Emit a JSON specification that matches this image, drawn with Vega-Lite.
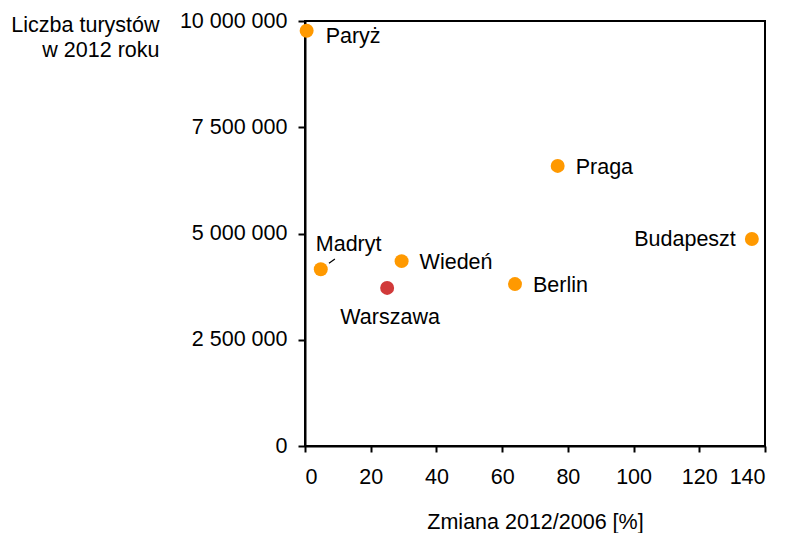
{
  "$schema": "https://vega.github.io/schema/vega-lite/v6.json",
  "width": 460,
  "height": 425,
  "autosize": {"type": "none"},
  "padding": {"left": 305, "top": 21, "right": 21, "bottom": 87},
  "background": "white",
  "config": {
    "font": "Liberation Sans",
    "view": {"stroke": "black", "strokeWidth": 2},
    "locale": {"number": {"decimal": ",", "thousands": " ", "grouping": [3], "currency": ["", " zł"]}},
    "axis": {
      "grid": false,
      "domainColor": "black",
      "domainWidth": 2,
      "tickColor": "black",
      "tickWidth": 2,
      "labelFont": "Liberation Sans",
      "labelFontSize": 21.5,
      "labelColor": "black",
      "titleFont": "Liberation Sans",
      "titleFontSize": 21.5,
      "titleFontWeight": "normal",
      "titleColor": "black"
    }
  },
  "datasets": {
    "miasta": [
      {"miasto": "Paryż", "zmiana": 0.5, "turysci": 9770000, "grupa": "inne"},
      {"miasto": "Madryt", "zmiana": 4.8, "turysci": 4160000, "grupa": "inne"},
      {"miasto": "Wiedeń", "zmiana": 29.4, "turysci": 4350000, "grupa": "inne"},
      {"miasto": "Warszawa", "zmiana": 25.0, "turysci": 3720000, "grupa": "Warszawa"},
      {"miasto": "Berlin", "zmiana": 63.9, "turysci": 3810000, "grupa": "inne"},
      {"miasto": "Praga", "zmiana": 76.9, "turysci": 6590000, "grupa": "inne"},
      {"miasto": "Budapeszt", "zmiana": 136.0, "turysci": 4870000, "grupa": "inne"}
    ],
    "linia": [
      {"x1": 7.3, "y1": 4300000, "x2": 9.1, "y2": 4400000}
    ]
  },
  "layer": [
    {
      "data": {"name": "linia"},
      "mark": {"type": "rule", "color": "black", "strokeWidth": 1.2},
      "encoding": {
        "x": {"field": "x1", "type": "quantitative", "scale": {"domain": [0, 140]}},
        "y": {"field": "y1", "type": "quantitative", "scale": {"domain": [0, 10000000]}},
        "x2": {"field": "x2"},
        "y2": {"field": "y2"}
      }
    },
    {
      "data": {"name": "miasta"},
      "mark": {"type": "circle", "size": 195, "opacity": 1},
      "encoding": {
        "x": {
          "field": "zmiana", "type": "quantitative",
          "scale": {"domain": [0, 140], "nice": false},
          "axis": {
            "values": [0, 20, 40, 60, 80, 100, 120, 140],
            "tickSize": 6,
            "labelPadding": 14,
            "title": "Zmiana 2012/2006 [%]",
            "titleX": 230, "titleY": 82, "titleAlign": "center", "titleBaseline": "alphabetic"
          }
        },
        "y": {
          "field": "turysci", "type": "quantitative",
          "scale": {"domain": [0, 10000000], "nice": false},
          "axis": {
            "values": [0, 2500000, 5000000, 7500000, 10000000],
            "format": ",d",
            "tickSize": 7,
            "labelPadding": 11,
            "title": ["Liczba turystów", "w 2012 roku"],
            "titleAngle": 0, "titleAlign": "right", "titleBaseline": "alphabetic",
            "titleX": -146, "titleY": 10.5, "titleLineHeight": 25
          }
        },
        "color": {
          "field": "grupa", "type": "nominal",
          "scale": {"domain": ["inne", "Warszawa"], "range": ["#FF9900", "#D13A3A"]},
          "legend": null
        }
      }
    },
    {
      "data": {"name": "miasta"},
      "transform": [{"filter": "indexof(['Praga','Berlin','Wiedeń'], datum.miasto) >= 0"}],
      "mark": {"type": "text", "align": "left", "baseline": "middle", "dx": 18, "dy": 2, "fontSize": 21.5, "color": "black"},
      "encoding": {
        "x": {"field": "zmiana", "type": "quantitative"},
        "y": {"field": "turysci", "type": "quantitative"},
        "text": {"field": "miasto"}
      }
    },
    {
      "data": {"name": "miasta"},
      "transform": [{"filter": "datum.miasto === 'Paryż'"}],
      "mark": {"type": "text", "align": "left", "baseline": "middle", "dx": 19, "dy": 6, "fontSize": 21.5, "color": "black"},
      "encoding": {
        "x": {"field": "zmiana", "type": "quantitative"},
        "y": {"field": "turysci", "type": "quantitative"},
        "text": {"field": "miasto"}
      }
    },
    {
      "data": {"name": "miasta"},
      "transform": [{"filter": "datum.miasto === 'Budapeszt'"}],
      "mark": {"type": "text", "align": "right", "baseline": "middle", "dx": -16, "dy": 1, "fontSize": 21.5, "color": "black"},
      "encoding": {
        "x": {"field": "zmiana", "type": "quantitative"},
        "y": {"field": "turysci", "type": "quantitative"},
        "text": {"field": "miasto"}
      }
    },
    {
      "data": {"name": "miasta"},
      "transform": [{"filter": "datum.miasto === 'Warszawa'"}],
      "mark": {"type": "text", "align": "center", "baseline": "middle", "dx": 3, "dy": 30, "fontSize": 21.5, "color": "black"},
      "encoding": {
        "x": {"field": "zmiana", "type": "quantitative"},
        "y": {"field": "turysci", "type": "quantitative"},
        "text": {"field": "miasto"}
      }
    },
    {
      "data": {"name": "miasta"},
      "transform": [{"filter": "datum.miasto === 'Madryt'"}],
      "mark": {"type": "text", "align": "left", "baseline": "middle", "dx": -5, "dy": -24, "fontSize": 21.5, "color": "black"},
      "encoding": {
        "x": {"field": "zmiana", "type": "quantitative"},
        "y": {"field": "turysci", "type": "quantitative"},
        "text": {"field": "miasto"}
      }
    }
  ]
}
